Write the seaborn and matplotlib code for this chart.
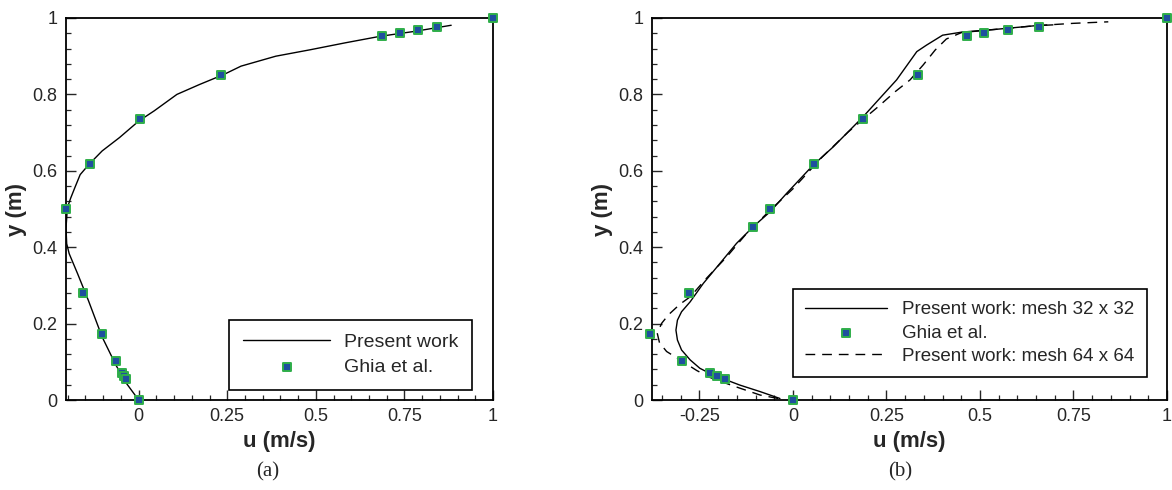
import matplotlib
matplotlib.use("Agg")
import matplotlib.pyplot as plt
import seaborn as sns
import numpy as np
import pandas as pd
from matplotlib.ticker import MultipleLocator, FuncFormatter

# Ghia et al. reference points (u along vertical centre line)
ghia_y_a = [1.0, 0.9766, 0.9688, 0.9609, 0.9531, 0.8516, 0.7344, 0.6172, 0.5,
            0.2813, 0.1719, 0.1016, 0.0703, 0.0625, 0.0547, 0.0]
ghia_u_a = [1.0, 0.841, 0.789, 0.737, 0.687, 0.232, 0.003, -0.136, -0.206,
            -0.157, -0.102, -0.064, -0.048, -0.042, -0.037, 0.0]

ghia_y_b = [1.0, 0.9766, 0.9688, 0.9609, 0.9531, 0.8516, 0.7344, 0.6172, 0.5,
            0.4531, 0.2813, 0.1719, 0.1016, 0.0703, 0.0625, 0.0547, 0.0]
ghia_u_b = [1.0, 0.659, 0.575, 0.511, 0.466, 0.333, 0.187, 0.057, -0.061,
            -0.106, -0.278, -0.383, -0.297, -0.222, -0.202, -0.181, 0.0]

# present work, panel (a)
work_u_a = [0.0, -0.034, -0.064, -0.103, -0.142, -0.172, -0.196, -0.203, -0.205,
            -0.201, -0.192, -0.180, -0.165, -0.140, -0.103, -0.054, 0.0, 0.044,
            0.108, 0.172, 0.240, 0.289, 0.387, 0.485, 0.583, 0.681, 0.779, 0.882]
work_y_a = [0.0, 0.043, 0.091, 0.165, 0.261, 0.330, 0.383, 0.409, 0.45,
            0.504, 0.528, 0.556, 0.590, 0.617, 0.652, 0.687, 0.730, 0.757,
            0.800, 0.826, 0.852, 0.874, 0.900, 0.917, 0.935, 0.952, 0.965, 0.981]

# present work, panel (b): mesh 32 x 32
mesh32_u = [-0.035, -0.088, -0.142, -0.177, -0.213, -0.249, -0.275, -0.298, -0.309,
            -0.313, -0.309, -0.298, -0.275, -0.240, -0.195, -0.151, -0.106, -0.061,
            -0.017, 0.054, 0.108, 0.188, 0.224, 0.277, 0.331, 0.357, 0.400, 0.451,
            0.550, 0.650, 0.695]
mesh32_y = [0.004, 0.022, 0.039, 0.052, 0.065, 0.083, 0.105, 0.131, 0.157,
            0.183, 0.209, 0.231, 0.257, 0.305, 0.358, 0.410, 0.454, 0.493,
            0.541, 0.615, 0.663, 0.742, 0.781, 0.838, 0.912, 0.929, 0.955, 0.963,
            0.971, 0.980, 0.982]

# present work, panel (b): mesh 64 x 64
mesh64_u = [-0.04, -0.088, -0.160, -0.222, -0.257, -0.302, -0.338, -0.357, -0.363,
            -0.351, -0.333, -0.302, -0.275, -0.231, -0.177, -0.124, -0.061, 0.0,
            0.077, 0.148, 0.228, 0.273, 0.313, 0.348, 0.380, 0.410, 0.451, 0.551,
            0.650, 0.749, 0.843]
mesh64_y = [0.004, 0.013, 0.037, 0.059, 0.077, 0.105, 0.127, 0.150, 0.175,
            0.201, 0.223, 0.251, 0.270, 0.319, 0.375, 0.436, 0.497, 0.553,
            0.635, 0.702, 0.768, 0.807, 0.838, 0.877, 0.916, 0.945, 0.962, 0.971,
            0.980, 0.986, 0.990]

sns.set_style("ticks")
plt.rcParams["font.family"] = ["Liberation Sans", "DejaVu Sans"]
plt.rcParams["axes.unicode_minus"] = False

mk_face = "#1f4f9f"
mk_edge = "#2fae4a"

fig = plt.figure(figsize=(11.72, 4.90), dpi=100)
ax_a = fig.add_axes([66 / 1172, 90 / 490, 427 / 1172, 382 / 490])
ax_b = fig.add_axes([652 / 1172, 90 / 490, 515 / 1172, 382 / 490])


def style_axis(ax, xmin):
    ax.set_xlim(xmin, 1.0)
    ax.set_ylim(0, 1.0)
    ax.xaxis.set_major_locator(MultipleLocator(0.25))
    ax.xaxis.set_minor_locator(MultipleLocator(0.05))
    ax.yaxis.set_major_locator(MultipleLocator(0.2))
    ax.yaxis.set_minor_locator(MultipleLocator(0.04))
    fmt = FuncFormatter(lambda v, p: f"{round(v, 4):g}" if abs(v) > 1e-9 else "0")
    ax.xaxis.set_major_formatter(fmt)
    ax.yaxis.set_major_formatter(fmt)
    ax.tick_params(which="major", direction="in", length=7, width=1.0, labelsize=13, pad=6,
                   top=False, right=False)
    ax.tick_params(which="minor", direction="in", length=3.5, width=0.9, top=False, right=False)
    for s in ax.spines.values():
        s.set_linewidth(1.3)
        s.set_color("black")
    ax.set_xlabel("u (m/s)", fontsize=16, fontweight="bold", labelpad=4)
    ax.set_ylabel("y (m)", fontsize=16, fontweight="bold", labelpad=4)


# panel (a)
sns.lineplot(x=work_u_a, y=work_y_a, sort=False, estimator=None, color="black",
             linewidth=1.0, ax=ax_a, label="Present work")
sns.scatterplot(x=ghia_u_a, y=ghia_y_a, marker="s", s=38, color=mk_face,
                edgecolor=mk_edge, linewidth=1.4, ax=ax_a, label="Ghia et al.",
                clip_on=False, zorder=5)
style_axis(ax_a, -0.205)
ax_a.legend(loc="lower right", bbox_to_anchor=(0.951, 0.026), borderaxespad=0,
            fontsize=14, frameon=True, fancybox=False, edgecolor="black",
            handlelength=4.5, handletextpad=0.7, labelspacing=0.4, borderpad=0.7,
            framealpha=1).get_frame().set_linewidth(1.2)

# panel (b)
sns.lineplot(x=mesh32_u, y=mesh32_y, sort=False, estimator=None, color="black",
             linewidth=1.0, ax=ax_b, label="Present work: mesh 32 x 32")
sns.scatterplot(x=ghia_u_b, y=ghia_y_b, marker="s", s=38, color=mk_face,
                edgecolor=mk_edge, linewidth=1.4, ax=ax_b, label="Ghia et al.",
                clip_on=False, zorder=5)
sns.lineplot(x=mesh64_u, y=mesh64_y, sort=False, estimator=None, color="black",
             linewidth=1.0, ax=ax_b, label="Present work: mesh 64 x 64")
ax_b.lines[-1].set_dashes([7, 5])
style_axis(ax_b, -0.377)
leg_b = ax_b.legend(loc="lower right", bbox_to_anchor=(0.961, 0.060), borderaxespad=0,
                    fontsize=13.5, frameon=True, fancybox=False, edgecolor="black",
                    handlelength=4.4, handletextpad=0.8, labelspacing=0.33, borderpad=0.65,
                    framealpha=1)
leg_b.get_frame().set_linewidth(1.2)
leg_b.get_lines()[-1].set_dashes([7, 5])

fig.text(268 / 1172, 1 - 472 / 490, "(a)", ha="center", va="center", fontsize=15,
         family=["Liberation Serif", "DejaVu Serif"])
fig.text(900 / 1172, 1 - 472 / 490, "(b)", ha="center", va="center", fontsize=15,
         family=["Liberation Serif", "DejaVu Serif"])

fig.savefig("out.png", dpi=100)
